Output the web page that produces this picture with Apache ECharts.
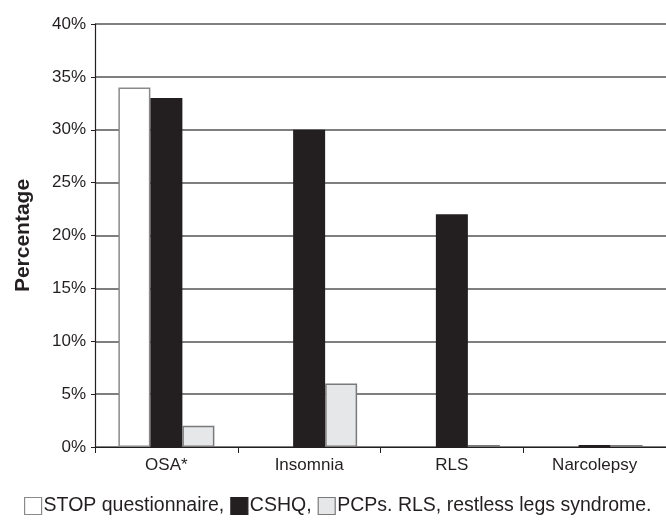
<!DOCTYPE html>
<html>
<head>
<meta charset="utf-8">
<script src="https://cdn.jsdelivr.net/npm/echarts@6/dist/echarts.min.js"></script>
<style>
html,body{margin:0;padding:0;background:#fff;}
#c{width:666px;height:523px;}
</style>
</head>
<body>
<div id="c"></div>
<script>
const categories = ['OSA*', 'Insomnia', 'RLS', 'Narcolepsy'];
const stopValues = [34, 0, 0, 0];
const cshqValues = [33, 30, 22, 0.2];
const pcpValues = [2, 6, 0.2, 0.2];
const yTicks = [0, 5, 10, 15, 20, 25, 30, 35, 40];
const seriesNames = ['STOP questionnaire', 'CSHQ', 'PCPs'];

const FONT = '"Liberation Sans", Arial, sans-serif';
const chart = echarts.init(document.getElementById('c'), null, {renderer: 'canvas'});
const legendText = {
  'STOP questionnaire': 'STOP questionnaire,',
  'CSHQ': 'CSHQ,',
  'PCPs': 'PCPs. RLS, restless legs syndrome.'
};
const noZero = arr => arr.map(v => (v === 0 ? null : v));
chart.setOption({
  animation: false,
  backgroundColor: '#fff',
  grid: {left: 95, top: 24, width: 576, height: 423, containLabel: false},
  legend: {
    bottom: 7,
    left: 24,
    width: 660,
    padding: 0,
    icon: 'rect',
    itemWidth: 17,
    itemHeight: 17,
    itemGap: 6,
    data: seriesNames,
    formatter: n => legendText[n],
    itemStyle: {borderWidth: 1.2},
    textStyle: {fontFamily: FONT, fontSize: 19.5, color: '#231f20', padding: [0, 0, 0, -3]}
  },
  xAxis: {
    type: 'category',
    data: categories,
    axisLine: {lineStyle: {color: '#231f20', width: 1.2}},
    axisTick: {show: true, length: 6, lineStyle: {color: '#231f20'}},
    axisLabel: {fontFamily: FONT, fontSize: 17, color: '#231f20', margin: 10}
  },
  yAxis: {
    type: 'value',
    min: yTicks[0],
    max: yTicks[yTicks.length - 1],
    interval: 5,
    name: 'Percentage',
    nameLocation: 'middle',
    nameGap: 61,
    nameRotate: 90,
    nameTextStyle: {fontFamily: FONT, fontSize: 21, fontWeight: 'bold', color: '#231f20'},
    axisLine: {show: true, lineStyle: {color: '#231f20', width: 1.2}},
    axisTick: {show: true, length: 4, lineStyle: {color: '#231f20'}},
    axisLabel: {formatter: '{value}%', fontFamily: FONT, fontSize: 17, color: '#231f20', margin: 9},
    splitLine: {lineStyle: {color: '#555', width: 1.5}}
  },
  series: [
    {name: seriesNames[0], type: 'bar', data: noZero(stopValues), barWidth: 32, barGap: '0%',
     itemStyle: {color: '#ffffff', borderColor: '#8a8a8a', borderWidth: 1.5}},
    {name: seriesNames[1], type: 'bar', data: noZero(cshqValues), barWidth: 32, barGap: '0%',
     itemStyle: {color: '#231f20', borderColor: '#231f20', borderWidth: 0}},
    {name: seriesNames[2], type: 'bar', data: noZero(pcpValues), barWidth: 32, barGap: '0%',
     itemStyle: {color: '#e6e7e8', borderColor: '#7a7a7a', borderWidth: 1.5}}
  ]
});
</script>
</body>
</html>
